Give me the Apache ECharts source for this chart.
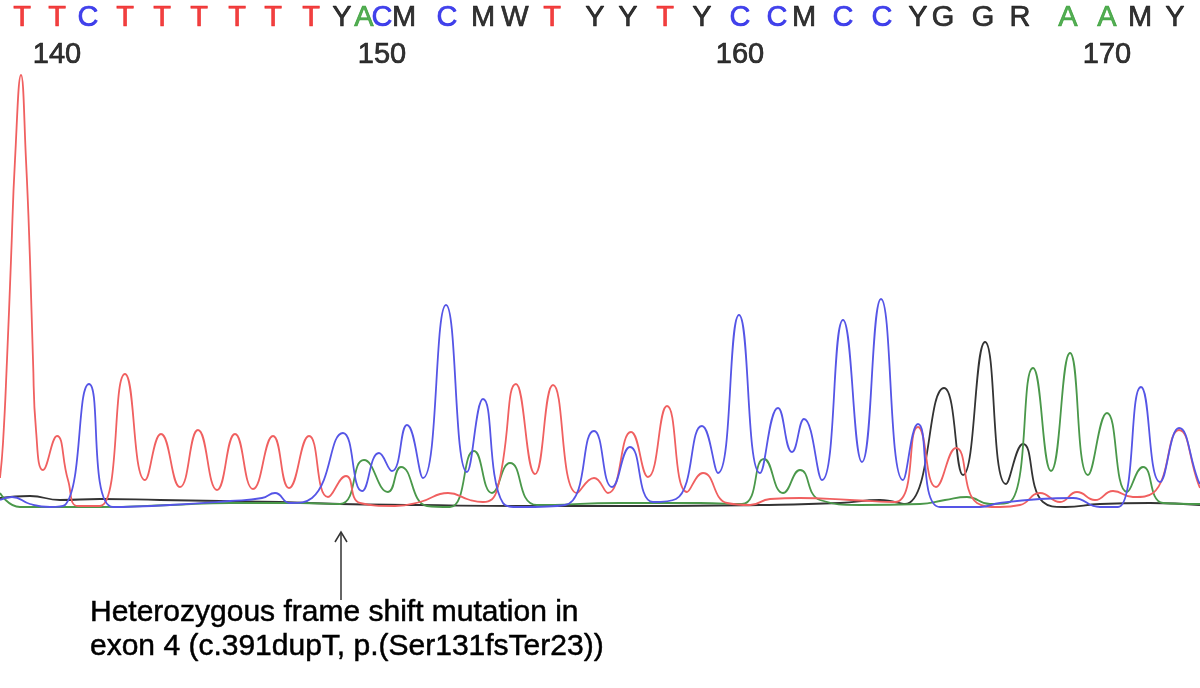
<!DOCTYPE html>
<html><head><meta charset="utf-8">
<script src="https://cdn.jsdelivr.net/npm/echarts@6/dist/echarts.min.js"></script>
<style>html,body{margin:0;padding:0;background:#fff}#c{width:1200px;height:688px}</style>
</head><body><div id="c"></div>
<script>
// Base calls along the top and the scan position where each was called
const bases = ['T','T','C','T','T','T','T','T','T','Y','A','C','M','C','M','W','T','Y','Y','T','Y','C','C','M','C','C','Y','G','G','R','A','A','M','Y'];
const baseScan = [22,57,88,125,162,199,237,273,311,342,364,382,404,447,483,515,552,595,628,665,702,740,777,804,843,882,918,943,983,1020,1068,1107,1140,1175];
const firstPosition = 139;
const positionStep = 10;

// Trace channels: [scan, signal]
const traceT = [[0,32],[3,67],[7,150],[11,250],[15,350],[21,435],[26,350],[30,250],[33,150],[36,80],[43,40],[57,74],[68,30],[78,4],[100,4],[125,136],[145,30],[161,76],[180,23],[198,80],[217,20],[235,76],[253,21],[273,74],[289,22],[309,74],[328,13],[346,34],[360,7],[395,4],[420,8],[448,17],[470,10],[483,8],[497,20],[516,126],[535,36],[553,125],[577,17],[594,32],[608,17],[631,78],[648,33],[667,104],[687,18],[703,37],[727,7],[750,5],[770,11],[800,12],[850,10],[895,8],[918,83],[936,23],[956,62],[977,7],[1000,3],[1020,5],[1040,17],[1060,8],[1077,18],[1095,10],[1113,19],[1133,13],[1153,17],[1179,80],[1198,27],[1200,22]];
const traceC = [[0,10],[12,13],[30,6],[50,3],[65,5],[89,126],[113,3],[170,5],[230,9],[262,12],[275,17],[290,7],[312,12],[343,77],[362,19],[379,57],[392,39],[407,85],[423,32],[446,205],[467,38],[483,111],[503,7],[520,3],[565,5],[594,79],[612,23],[630,63],[653,8],[676,11],[702,84],[718,37],[739,195],[760,37],[778,102],[792,58],[804,91],[822,30],[843,190],[862,48],[881,211],[903,30],[918,86],[940,3],[980,3],[1000,7],[1040,11],[1073,12],[1100,3],[1118,3],[1141,123],[1160,28],[1179,82],[1198,30],[1200,26]];
const traceA = [[0,17],[20,3],[100,3],[170,5],[230,7],[300,7],[340,6],[364,50],[388,18],[401,43],[427,4],[450,3],[474,59],[492,17],[510,47],[537,5],[620,7],[700,7],[742,6],[764,51],[783,17],[800,40],[820,10],[860,5],[920,6],[945,10],[967,13],[990,6],[1010,8],[1033,142],[1051,39],[1070,157],[1088,35],[1107,97],[1127,18],[1143,43],[1163,7],[1200,6]];
const traceG = [[0,12],[30,14],[60,10],[100,11],[160,10],[220,9],[280,8],[340,6],[420,5],[520,4],[640,4],[760,5],[840,7],[880,10],[905,6],[944,122],[963,35],[985,168],[1006,26],[1023,66],[1043,8],[1065,3],[1100,6],[1150,7],[1200,5]];

const noteLines = ['Heterozygous frame shift mutation in', 'exon 4 (c.391dupT, p.(Ser131fsTer23))'];
const mutationScan = 341;

const baseColor = {T:'#ee1111', C:'#1414e6', A:'#2a9a2a'};
const FONT = '"Liberation Sans", Arial, sans-serif';

const baseData = bases.map((b, i) => {
  const col = baseColor[b] || '#000';
  return {value: [baseScan[i], 1], name: b, label: {color: col, textBorderColor: col}};
});
const posData = [];
bases.forEach((b, i) => {
  const p = firstPosition + i;
  if (p % positionStep === 0) posData.push({value: [baseScan[i], 0], name: String(p)});
});

function trace(data, color, name) {
  return {
    type: 'line', name, data, xAxisIndex: 0, yAxisIndex: 0,
    showSymbol: false, smooth: 0.5, clip: false, silent: true,
    lineStyle: {color, width: 1.8}, animation: false
  };
}

const chart = echarts.init(document.getElementById('c'), null, {renderer: 'canvas'});
chart.setOption({
  backgroundColor: '#fff',
  animation: false,
  grid: [
    {left: 0, right: 0, top: 60, height: 450},
    {left: 0, right: 0, top: 18, height: 37}
  ],
  xAxis: [
    {type: 'value', min: 0, max: 1200, show: false, gridIndex: 0},
    {type: 'value', min: 0, max: 1200, show: false, gridIndex: 1}
  ],
  yAxis: [
    {type: 'value', min: 0, max: 450, show: false, gridIndex: 0},
    {type: 'value', min: 0, max: 1, show: false, gridIndex: 1}
  ],
  series: [
    trace(traceG, '#333333', 'G'),
    trace(traceA, '#4a984a', 'A'),
    trace(traceT, '#f06060', 'T'),
    trace(traceC, '#5555e6', 'C'),
    {
      type: 'scatter', xAxisIndex: 1, yAxisIndex: 1, data: baseData, clip: false, silent: true,
      symbolSize: 1, itemStyle: {color: 'rgba(0,0,0,0)'},
      label: {show: true, position: 'inside', formatter: p => p.name, fontSize: 29, fontFamily: FONT, textBorderWidth: 0.7}
    },
    {
      type: 'scatter', xAxisIndex: 1, yAxisIndex: 1, data: posData, clip: false, silent: true,
      symbolSize: 1, itemStyle: {color: 'rgba(0,0,0,0)'},
      label: {show: true, position: 'inside', formatter: p => p.name, fontSize: 29, fontFamily: FONT, color: '#000', textBorderColor: '#000', textBorderWidth: 0.7}
    }
  ]
});

const ax = chart.convertToPixel({xAxisIndex: 0}, mutationScan);
chart.setOption({
  graphic: [
    {type: 'line', shape: {x1: ax, y1: 600, x2: ax, y2: 533}, style: {stroke: '#333', lineWidth: 1.5}},
    {type: 'polyline', shape: {points: [[ax - 6, 542], [ax, 532], [ax + 6, 542]]}, style: {stroke: '#333', lineWidth: 1.5, fill: null}},
    {type: 'text', x: 90, y: 596, style: {text: noteLines.join('\n'), font: '30px ' + FONT, fill: '#000', stroke: '#000', lineWidth: 0.5, lineHeight: 34, textVerticalAlign: 'top'}}
  ]
});
</script>
</body></html>
